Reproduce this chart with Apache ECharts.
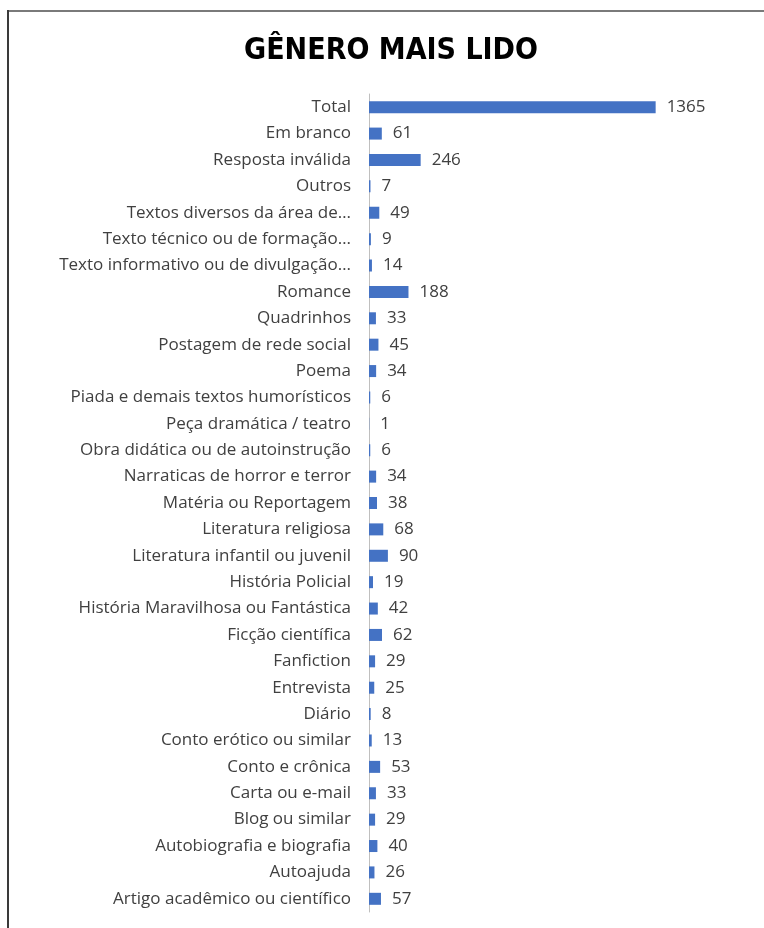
<!DOCTYPE html>
<html>
<head>
<meta charset="utf-8">
<title>Gênero mais lido</title>
<script src="https://cdn.jsdelivr.net/npm/echarts@6/dist/echarts.min.js"></script>
<style>
  html, body { margin: 0; padding: 0; background: #fff; }
  #chart { width: 764px; height: 928px; }
</style>
</head>
<body>
<div id="chart"></div>
<script>
// categorias, de cima para baixo
const generos = [
  'Total',
  'Em branco',
  'Resposta inválida',
  'Outros',
  'Textos diversos da área de…',
  'Texto técnico ou de formação…',
  'Texto informativo ou de divulgação…',
  'Romance',
  'Quadrinhos',
  'Postagem de rede social',
  'Poema',
  'Piada e demais textos humorísticos',
  'Peça dramática / teatro',
  'Obra didática ou de autoinstrução',
  'Narraticas de horror e terror',
  'Matéria ou Reportagem',
  'Literatura religiosa',
  'Literatura infantil ou juvenil',
  'História Policial',
  'História Maravilhosa ou Fantástica',
  'Ficção científica',
  'Fanfiction',
  'Entrevista',
  'Diário',
  'Conto erótico ou similar',
  'Conto e crônica',
  'Carta ou e-mail',
  'Blog ou similar',
  'Autobiografia e biografia',
  'Autoajuda',
  'Artigo acadêmico ou científico'
]

const quantidades = [
  1365, 61, 246, 7, 49, 9, 14, 188, 33, 45, 34, 6, 1, 6, 34, 38,
  68, 90, 19, 42, 62, 29, 25, 8, 13, 53, 33, 29, 40, 26, 57
]

const chart = echarts.init(document.getElementById('chart'))

const option = {
  backgroundColor: '#fff',
  animation: false,
  title: {
    text: 'GÊNERO MAIS LIDO',
    left: 386,
    top: 31,
    textAlign: 'center',
    textStyle: {
      fontFamily: 'DejaVu Sans Condensed',
      fontWeight: 'bold',
      fontSize: 30,
      color: '#000'
    }
  },
  // moldura (linha superior e esquerda)
  graphic: [
    { type: 'line', shape: { x1: 8, y1: 11, x2: 764, y2: 11 }, style: { stroke: '#7a7a7a', lineWidth: 2 } },
    { type: 'line', shape: { x1: 8, y1: 10, x2: 8, y2: 928 }, style: { stroke: '#3a3a3a', lineWidth: 2 } }
  ],
  grid: {
    left: 369,
    top: 94,
    width: 294,
    height: 818
  },
  xAxis: {
    type: 'value',
    min: 0,
    max: 1400,
    show: false
  },
  yAxis: {
    type: 'category',
    data: generos,
    inverse: true,
    axisTick: { show: false },
    axisLine: { lineStyle: { color: '#bfbfbf', width: 1 } },
    axisLabel: {
      margin: 18,
      fontFamily: 'Open Sans',
      fontSize: 17,
      color: '#404040'
    }
  },
  series: [{
    type: 'bar',
    data: quantidades,
    barWidth: 12,
    itemStyle: { color: '#4472c4' },
    label: {
      show: true,
      position: 'right',
      distance: 11,
      fontFamily: 'Open Sans',
      fontSize: 17,
      color: '#404040'
    }
  }]
}

chart.setOption(option)
</script>
</body>
</html>
